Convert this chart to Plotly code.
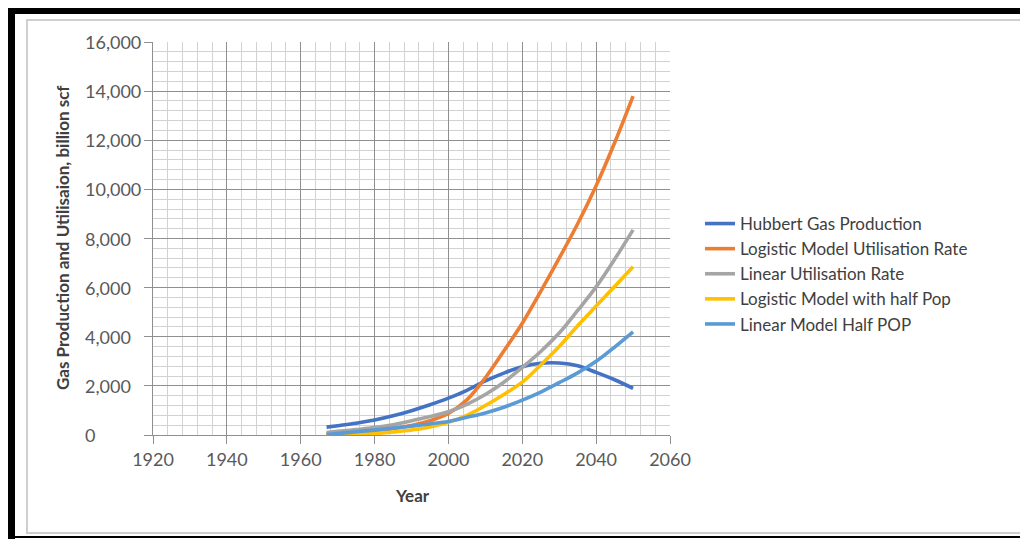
import plotly.graph_objects as go

years = [1967, 1970, 1975, 1980, 1985, 1990, 1995, 2000, 2005, 2010,
         2015, 2020, 2025, 2030, 2035, 2040, 2045, 2050]

hubbert = [320, 380, 480, 610, 780, 990, 1230, 1500, 1820, 2200,
           2520, 2780, 2920, 2930, 2820, 2550, 2250, 1900]
logistic = [50, 70, 110, 180, 270, 390, 580, 880, 1430, 2330,
            3420, 4550, 5850, 7200, 8600, 10150, 11900, 13800]
linear = [100, 150, 220, 300, 420, 580, 750, 950, 1250, 1650,
          2150, 2750, 3400, 4150, 5070, 6030, 7150, 8350]
logistic_half = [0, 10, 30, 60, 120, 200, 330, 520, 800, 1200,
                 1650, 2150, 2850, 3600, 4450, 5250, 6050, 6850]
linear_half = [20, 60, 130, 200, 280, 360, 450, 550, 720, 900,
               1130, 1420, 1750, 2130, 2530, 3000, 3580, 4200]

series_names = ["Hubbert Gas Production", "Logistic Model Utilisation Rate",
                "Linear Utilisation Rate", "Logistic Model with half Pop",
                "Linear Model Half POP"]
series_values = [hubbert, logistic, linear, logistic_half, linear_half]
series_colors = ["#4472C4", "#ED7D31", "#A5A5A5", "#FFC000", "#5B9BD5"]

y_ticks = [0, 2000, 4000, 6000, 8000, 10000, 12000, 14000, 16000]
x_ticks = [1920, 1940, 1960, 1980, 2000, 2020, 2040, 2060]

# page is 1028x539; the html body adds an 8px offset
OFF = 8
PAGE_W, PAGE_H = 1028, 539
W, H = PAGE_W - OFF, PAGE_H - OFF
L, R, T, B = 153, 670, 42, 435  # plot area in page pixels
pw, ph = R - L, B - T


def px(x):
    return (x - L) / pw


def py(y):
    return (B - y) / ph


FONT = "Lato"

fig = go.Figure()
for name, vals, col in zip(series_names, series_values, series_colors):
    fig.add_trace(go.Scatter(x=years, y=vals, name=name, mode="lines",
                             line=dict(color=col, width=3.6, shape="spline")))

fig.update_layout(
    width=W, height=H, autosize=False,
    margin=dict(l=L - OFF, r=PAGE_W - R, t=T - OFF, b=PAGE_H - B),
    plot_bgcolor="white", paper_bgcolor="white",
    font=dict(family=FONT, size=18, color="#595959"),
    showlegend=True,
    legend=dict(x=px(700), y=py(206), xanchor="left", yanchor="top",
                font=dict(family=FONT, size=17, color="#404040"),
                itemwidth=30, tracegroupgap=0, bgcolor="rgba(0,0,0,0)"),
)

fig.update_xaxes(
    range=[1920, 2060], tickmode="array", tickvals=x_ticks,
    ticktext=[str(v) for v in x_ticks],
    showgrid=True, gridcolor="#8f8f8f", gridwidth=1,
    showline=True, linecolor="#8f8f8f", linewidth=1,
    ticks="outside", ticklen=8, tickcolor="#8f8f8f",
    tickfont=dict(family=FONT, size=18, color="#595959"),
    zeroline=False,
    minor=dict(dtick=4, tick0=1920, showgrid=True, gridcolor="#d2d2d2", ticks=""),
)
fig.update_yaxes(
    range=[0, 16000], tickmode="array", tickvals=y_ticks,
    showticklabels=False,
    showgrid=True, gridcolor="#8f8f8f", gridwidth=1,
    showline=True, linecolor="#8f8f8f", linewidth=1,
    ticks="outside", ticklen=8, tickcolor="#8f8f8f",
    zeroline=False,
    minor=dict(dtick=400, tick0=0, showgrid=True, gridcolor="#d2d2d2", ticks=""),
)

# left-aligned y tick labels
for v in y_ticks:
    fig.add_annotation(x=px(83), xref="paper", y=v, yref="y", text=f"{v:,}",
                       showarrow=False, xanchor="left", yanchor="middle",
                       font=dict(family=FONT, size=18, color="#595959"))

fig.add_annotation(x=px(62), xref="paper", y=py(238), yref="paper",
                   text="<b>Gas Production and Utilisaion, billion scf</b>",
                   textangle=-90, showarrow=False, xanchor="center", yanchor="middle",
                   font=dict(family=FONT, size=17, color="#404040"))
fig.add_annotation(x=px(412), xref="paper", y=py(495), yref="paper",
                   text="<b>Year</b>", showarrow=False, xanchor="center", yanchor="middle",
                   font=dict(family=FONT, size=17, color="#404040"))

# screenshot frame (page pixel positions)
shapes = [
    dict(type="rect", x0=px(27), x1=px(1023), y0=py(20), y1=py(533),
         line=dict(color="#cfcfcf", width=2), fillcolor="rgba(0,0,0,0)", layer="below"),
    dict(type="rect", x0=px(OFF), x1=px(PAGE_W), y0=py(OFF), y1=py(14),
         line=dict(width=0), fillcolor="black"),
    dict(type="rect", x0=px(OFF), x1=px(15), y0=py(OFF), y1=py(PAGE_H),
         line=dict(width=0), fillcolor="black"),
    dict(type="rect", x0=px(OFF), x1=px(PAGE_W), y0=py(536), y1=py(538),
         line=dict(width=0), fillcolor="black"),
]
for s in shapes:
    s.update(xref="paper", yref="paper")
    fig.add_shape(**s)

fig.write_html("out.html")
